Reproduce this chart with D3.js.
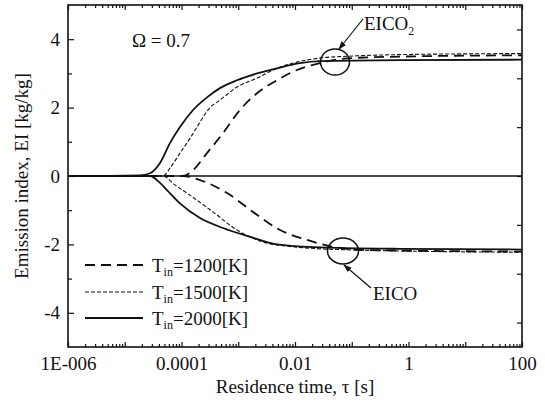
<!DOCTYPE html>
<html lang="en">
<head>
<meta charset="utf-8">
<title>Emission index vs residence time</title>
<script src="https://d3js.org/d3.v7.min.js"></script>
<style>
  body { margin: 0; background: #fff; }
  svg text { font-family: "Liberation Serif", "Times New Roman", serif; fill: #111; }
</style>
</head>
<body>
<script>
// data: [residence time (s), EI (kg/kg)]
var co2_1200 = [[1e-6,0],[1.06e-4,0],[1.6e-4,0.17],[2.81e-4,0.67],[5.38e-4,1.25],[1.07e-3,1.93],[2.14e-3,2.42],[4.82e-3,2.8],[1.08e-2,3.1],[2.76e-2,3.3],[8.24e-2,3.44],[0.71,3.49],[100,3.53]];
var co2_1500 = [[1e-6,0],[4.72e-5,0],[6.26e-5,0.23],[9.4e-5,0.67],[1.41e-4,1.1],[1.87e-4,1.43],[3.18e-4,2.0],[4.76e-4,2.22],[9.5e-4,2.6],[2.14e-3,2.86],[4.82e-3,3.15],[1.08e-2,3.33],[2.76e-2,3.45],[8.24e-2,3.5],[0.71,3.55],[100,3.58]];
var co2_2000 = [[1e-6,0],[1.86e-5,0.02],[2.79e-5,0.08],[4.18e-5,0.38],[6.26e-5,0.96],[9.4e-5,1.43],[1.6e-4,1.93],[2.81e-4,2.3],[4.76e-4,2.57],[9.5e-4,2.8],[2.14e-3,3.0],[4.82e-3,3.15],[1.22e-2,3.3],[2.76e-2,3.36],[0.71,3.39],[100,3.4]];

var co_1200 = [[1e-6,0],[1.06e-4,0],[2.12e-4,-0.12],[6.34e-4,-0.5],[1.82e-3,-1.05],[5.45e-3,-1.58],[1.63e-2,-1.87],[4.68e-2,-2.07],[0.14,-2.16],[100,-2.21]];
var co_1500 = [[1e-6,0],[4.72e-5,0],[7.67e-5,-0.26],[1.25e-4,-0.5],[3.59e-4,-1.05],[9.5e-4,-1.58],[2.73e-3,-1.93],[9.2e-3,-2.07],[9.3e-2,-2.16],[100,-2.23]];
var co_2000 = [[1e-6,0],[2.79e-5,0],[4.18e-5,-0.2],[5.55e-5,-0.41],[9.4e-5,-0.8],[2.12e-4,-1.23],[5.38e-4,-1.52],[1.43e-3,-1.75],[4.82e-3,-2.0],[2.07e-2,-2.08],[0.71,-2.13],[100,-2.15]];

var legendLabels = ["=1200[K]", "=1500[K]", "=2000[K]"];
var xTickValues = [1e-6, 1e-4, 1e-2, 1, 100];
var xTickLabels = ["1E-006", "0.0001", "0.01", "1", "100"];
var yTickValues = [-4, -2, 0, 2, 4];

var width = 545, height = 404;
var margin = {top: 5, right: 23, bottom: 57, left: 68};

var svg = d3.select("body").append("svg")
  .attr("width", width).attr("height", height);

var x = d3.scaleLog().domain([1e-6, 100]).range([margin.left, width - margin.right]);
var y = d3.scaleLinear().domain([-5, 5]).range([height - margin.bottom, margin.top]);

// minor ticks in each decade
var decades = d3.range(-6, 3).map(function(e) { return Math.pow(10, e); });
var minor = [];
decades.slice(0, -1).forEach(function(d) {
  for (var k = 2; k <= 9; k++) minor.push(d * k);
});

function plain(g) {
  g.select(".domain").remove();
  g.selectAll("line").attr("stroke", "#111").attr("stroke-width", 1.2);
}

// bottom axis
svg.append("g").attr("transform", "translate(0," + y(-5) + ")")
  .call(d3.axisBottom(x).tickValues(decades).tickSizeInner(-5).tickSizeOuter(0)
    .tickPadding(10)
    .tickFormat(function(d) { var i = xTickValues.indexOf(d); return i < 0 ? "" : xTickLabels[i]; }))
  .call(plain)
  .selectAll("text").attr("font-size", 19);
svg.append("g").attr("transform", "translate(0," + y(-5) + ")")
  .call(d3.axisBottom(x).tickValues(minor).tickSize(-3).tickFormat(""))
  .call(plain);

// top axis
svg.append("g").attr("transform", "translate(0," + y(5) + ")")
  .call(d3.axisTop(x).tickValues(decades).tickSize(-5).tickFormat(""))
  .call(plain);
svg.append("g").attr("transform", "translate(0," + y(5) + ")")
  .call(d3.axisTop(x).tickValues(minor).tickSize(-3).tickFormat(""))
  .call(plain);

// left axis (hyphen minus like the original)
svg.append("g").attr("transform", "translate(" + x(1e-6) + ",0)")
  .call(d3.axisLeft(y).tickValues(yTickValues).tickSize(-6).tickPadding(8)
    .tickFormat(function(d) { return String(d); }))
  .call(plain)
  .selectAll("text").attr("font-size", 19);
svg.append("g").attr("transform", "translate(" + x(1e-6) + ",0)")
  .call(d3.axisLeft(y).tickValues([-3, -1, 1, 3]).tickSize(-4).tickFormat(""))
  .call(plain);

// right axis (unlabelled, 7 divisions)
svg.append("g").attr("transform", "translate(" + x(100) + ",0)")
  .call(d3.axisRight(y).tickValues(d3.range(-3, 4).map(function(k) { return k * 10 / 7; }))
    .tickSize(-5).tickFormat(""))
  .call(plain);

// zero line
svg.append("line")
  .attr("x1", x(1e-6)).attr("x2", x(100)).attr("y1", y(0)).attr("y2", y(0))
  .attr("stroke", "#111").attr("stroke-width", 1.3);

// frame
svg.append("rect")
  .attr("x", x(1e-6)).attr("y", y(5))
  .attr("width", x(100) - x(1e-6)).attr("height", y(-5) - y(5))
  .attr("fill", "none").attr("stroke", "#111").attr("stroke-width", 1.6);

var line = d3.line()
  .x(function(d) { return x(d[0]); })
  .y(function(d) { return y(d[1]); })
  .curve(d3.curveMonotoneX);

var styles = [
  {dash: "10,6", w: 1.8},
  {dash: "4,2", w: 1.1},
  {dash: null, w: 1.8}
];
var series = [[co2_1200, co_1200], [co2_1500, co_1500], [co2_2000, co_2000]];

series.forEach(function(pair, i) {
  pair.forEach(function(data) {
    svg.append("path").datum(data)
      .attr("d", line)
      .attr("fill", "none")
      .attr("stroke", "#111")
      .attr("stroke-width", styles[i].w)
      .attr("stroke-dasharray", styles[i].dash);
  });
});

// legend
var legendY = [265, 292, 318];
legendLabels.forEach(function(lab, i) {
  svg.append("line")
    .attr("x1", 85).attr("x2", 143).attr("y1", legendY[i]).attr("y2", legendY[i])
    .attr("stroke", "#111").attr("stroke-width", styles[i].w)
    .attr("stroke-dasharray", styles[i].dash);
  var t = svg.append("text").attr("x", 152).attr("y", legendY[i] + 7).attr("font-size", 19);
  t.append("tspan").text("T");
  t.append("tspan").attr("font-size", 12).attr("dy", 4).text("in");
  t.append("tspan").attr("dy", -4).text(lab);
});

// annotations
svg.append("text").attr("x", 132).attr("y", 47).attr("font-size", 19).text("\u03A9 = 0.7");

svg.append("defs").append("marker")
  .attr("id", "arrow").attr("viewBox", "0 0 10 10")
  .attr("refX", 9).attr("refY", 5)
  .attr("markerWidth", 7).attr("markerHeight", 7)
  .attr("orient", "auto")
  .append("path").attr("d", "M0,1.5L10,5L0,8.5Z").attr("fill", "#111");

svg.append("ellipse").attr("cx", 335).attr("cy", 62).attr("rx", 14.5).attr("ry", 13)
  .attr("fill", "none").attr("stroke", "#111").attr("stroke-width", 1.5);
svg.append("line").attr("x1", 363).attr("y1", 19).attr("x2", 339).attr("y2", 49)
  .attr("stroke", "#111").attr("stroke-width", 1.2).attr("marker-end", "url(#arrow)");
var e2 = svg.append("text").attr("x", 364).attr("y", 30).attr("font-size", 19);
e2.append("tspan").text("EICO");
e2.append("tspan").attr("font-size", 12).attr("dy", 5).text("2");

svg.append("ellipse").attr("cx", 343).attr("cy", 251).attr("rx", 15.5).attr("ry", 13)
  .attr("fill", "none").attr("stroke", "#111").attr("stroke-width", 1.5);
svg.append("line").attr("x1", 371).attr("y1", 288).attr("x2", 344).attr("y2", 265)
  .attr("stroke", "#111").attr("stroke-width", 1.2).attr("marker-end", "url(#arrow)");
svg.append("text").attr("x", 373).attr("y", 300).attr("font-size", 19).text("EICO");

// axis titles
svg.append("text")
  .attr("x", (x(1e-6) + x(100)) / 2).attr("y", 393)
  .attr("text-anchor", "middle").attr("font-size", 19)
  .text("Residence time, \u03C4 [s]");
svg.append("text")
  .attr("transform", "translate(28," + y(0) + ") rotate(-90)")
  .attr("text-anchor", "middle").attr("font-size", 19)
  .text("Emission index, EI [kg/kg]");
</script>
</body>
</html>
